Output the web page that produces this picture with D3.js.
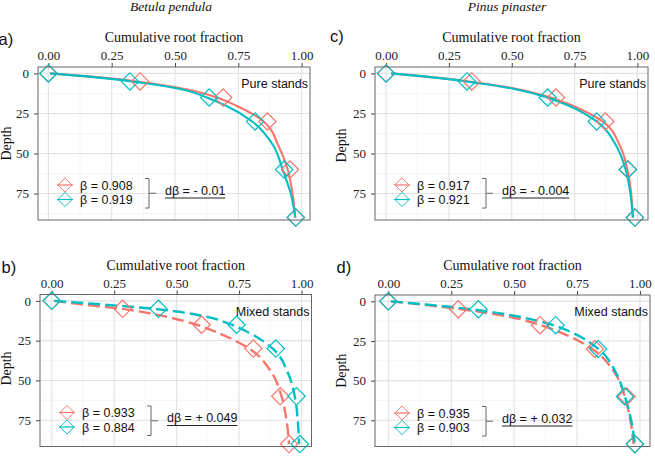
<!DOCTYPE html>
<html lang="en">
<head>
<meta charset="UTF-8" />
<title>Cumulative root fraction</title>
<script src="https://cdn.jsdelivr.net/npm/d3@7"></script>
<style>
  body { margin: 0; background: #fff; }
  svg { display: block; }
</style>
</head>
<body>
<svg width="655" height="456"></svg>
<script>
// depths of the observations and of the fitted curves
const depthObs = [0, 5, 15, 30, 60, 90];
const depthFit = [0, 2, 5, 10, 15, 20, 30, 45, 60, 75, 90];
const xTicks = [0, 0.25, 0.5, 0.75, 1];
const xMinor = [0.125, 0.375, 0.625, 0.875];
const yTicks = [0, 25, 50, 75];
const yMinor = [12.5, 37.5, 62.5, 87.5];
const species = ["Betula pendula", "Pinus pinaster"];

// a) Betula pendula, pure stands
const aObsRed  = [0, 0.362, 0.69, 0.865, 0.954, 0.977];
const aObsCyan = [0, 0.322, 0.635, 0.816, 0.931, 0.977];
const aFitRed  = [0.007, 0.17, 0.35, 0.55, 0.665, 0.74, 0.85, 0.908, 0.945, 0.964, 0.975];
const aFitCyan = [0.007, 0.16, 0.33, 0.53, 0.625, 0.70, 0.805, 0.888, 0.925, 0.957, 0.975];
// b) Betula pendula, mixed stands
const bObsRed  = [0, 0.284, 0.60, 0.807, 0.915, 0.95];
const bObsCyan = [0, 0.427, 0.74, 0.897, 0.98, 0.993];
const bFitRed  = [0.01, 0.11, 0.28, 0.46, 0.58, 0.665, 0.79, 0.88, 0.92, 0.94, 0.95];
const bFitCyan = [0.01, 0.18, 0.41, 0.62, 0.72, 0.79, 0.885, 0.945, 0.973, 0.985, 0.99];
// c) Pinus pinaster, pure stands
const cObsRed  = [0, 0.341, 0.676, 0.872, 0.962, 0.99];
const cObsCyan = [0, 0.322, 0.643, 0.838, 0.962, 0.99];
const cFitRed  = [0.02, 0.16, 0.33, 0.53, 0.655, 0.74, 0.862, 0.93, 0.96, 0.975, 0.982];
const cFitCyan = [0.02, 0.16, 0.32, 0.52, 0.64, 0.725, 0.838, 0.915, 0.953, 0.972, 0.982];
// d) Pinus pinaster, mixed stands
const dObsRed  = [0, 0.278, 0.603, 0.821, 0.947, 0.98];
const dObsCyan = [0, 0.358, 0.665, 0.834, 0.94, 0.98];
const dFitRed  = [0.01, 0.13, 0.29, 0.49, 0.605, 0.69, 0.81, 0.9, 0.94, 0.962, 0.975];
const dFitCyan = [0.01, 0.15, 0.33, 0.53, 0.655, 0.735, 0.835, 0.905, 0.94, 0.965, 0.98];

const betaLabels = [["β = 0.908", "β = 0.919"], ["β = 0.933", "β = 0.884"],
                    ["β = 0.917", "β = 0.921"], ["β = 0.935", "β = 0.903"]];
const dBetaLabels = ["dβ = - 0.01", "dβ = + 0.049", "dβ = - 0.004", "dβ = + 0.032"];
const colors = ["#F8766D", "#00BFC4"];

const SERIF = "'Liberation Serif', 'Times New Roman', Times, serif";
const SANS = "'Liberation Sans', Arial, Helvetica, sans-serif";

const svg = d3.select("svg");

const panels = [
  {tag: "a)", stand: "Pure stands", box: [38, 67, 310, 220], xDom: [-0.041, 1.033],
   obs: [aObsRed, aObsCyan], fit: [aFitRed, aFitCyan], dashed: false, i: 0,
   tagX: -1.5, tagY: 45, depthX: 10.5, depthDy: 0},
  {tag: "b)", stand: "Mixed stands", box: [40, 294.5, 311.5, 446.5], xDom: [-0.047, 1.04],
   obs: [bObsRed, bObsCyan], fit: [bFitRed, bFitCyan], dashed: true, i: 1,
   tagX: 1.5, tagY: 272.5, depthX: 11, depthDy: -2},
  {tag: "c)", stand: "Pure stands", box: [375, 67, 648, 220], xDom: [-0.044, 1.042],
   obs: [cObsRed, cObsCyan], fit: [cFitRed, cFitCyan], dashed: false, i: 2,
   tagX: 330, tagY: 42, depthX: 346, depthDy: 2},
  {tag: "d)", stand: "Mixed stands", box: [375, 295, 650, 446.5], xDom: [-0.053, 1.04],
   obs: [dObsRed, dObsCyan], fit: [dFitRed, dFitCyan], dashed: true, i: 3,
   tagX: 336.5, tagY: 273, depthX: 346, depthDy: 0}
];

// species titles
svg.selectAll("text.species").data(species).enter().append("text")
  .attr("class", "species")
  .attr("x", (d, i) => i === 0 ? 171 : 507).attr("y", 11)
  .attr("text-anchor", "middle").attr("font-family", SERIF)
  .attr("font-style", "italic").attr("font-size", 13.5)
  .attr("fill", "#111").text(d => d);

const diamond = d3.symbol().type(d3.symbolSquare);

function drawPanel(p) {
  const [x0, y0, x1, y1] = p.box;
  const x = d3.scaleLinear().domain(p.xDom).range([x0, x1]);
  const y = d3.scaleLinear().domain([-4, 91.5]).range([y0, y1]);
  const g = svg.append("g");

  // grid
  g.selectAll("line.xmin").data(xMinor).enter().append("line")
    .attr("x1", d => x(d)).attr("x2", d => x(d)).attr("y1", y0).attr("y2", y1)
    .attr("stroke", "#f0f0f0").attr("stroke-width", 0.7);
  g.selectAll("line.ymin").data(yMinor).enter().append("line")
    .attr("y1", d => y(d)).attr("y2", d => y(d)).attr("x1", x0).attr("x2", x1)
    .attr("stroke", "#f0f0f0").attr("stroke-width", 0.7);
  g.selectAll("line.xmaj").data(xTicks).enter().append("line")
    .attr("x1", d => x(d)).attr("x2", d => x(d)).attr("y1", y0).attr("y2", y1)
    .attr("stroke", "#e2e2e2").attr("stroke-width", 1.1);
  g.selectAll("line.ymaj").data(yTicks).enter().append("line")
    .attr("y1", d => y(d)).attr("y2", d => y(d)).attr("x1", x0).attr("x2", x1)
    .attr("stroke", "#e2e2e2").attr("stroke-width", 1.1);

  // axes
  const ax = g.append("g").attr("transform", `translate(0,${y0})`)
    .call(d3.axisTop(x).tickValues(xTicks).tickFormat(d3.format(".2f")).tickSize(4).tickPadding(3));
  const ay = g.append("g").attr("transform", `translate(${x0},0)`)
    .call(d3.axisLeft(y).tickValues(yTicks).tickSize(4).tickPadding(5));
  [ax, ay].forEach(a => {
    a.attr("font-family", SERIF).attr("font-size", 13);
    a.select(".domain").remove();
    a.selectAll("line").attr("stroke", "#444");
    a.selectAll("text").attr("fill", "#222");
  });

  // axis titles
  g.append("text").attr("font-family", SERIF).attr("x", (x0 + x1) / 2).attr("y", y0 - 25)
    .attr("text-anchor", "middle").attr("font-size", 14).attr("fill", "#111")
    .text("Cumulative root fraction");
  g.append("text").attr("font-family", SERIF)
    .attr("transform", `translate(${p.depthX},${(y0 + y1) / 2 + p.depthDy}) rotate(-90)`)
    .attr("text-anchor", "middle").attr("font-size", 14).attr("fill", "#111").text("Depth");
  g.append("text").attr("font-family", SANS).attr("x", p.tagX).attr("y", p.tagY)
    .attr("font-size", 16.5).attr("fill", "#111").text(p.tag);

  // fitted curves
  const line = d3.line().x(d => x(d[0])).y(d => y(d[1])).curve(d3.curveMonotoneY);
  p.fit.forEach((vals, k) => {
    g.append("path").datum(vals.map((v, j) => [v, depthFit[j]]))
      .attr("d", line).attr("fill", "none").attr("stroke", colors[k])
      .attr("stroke-width", p.dashed ? 2.4 : 2.1)
      .attr("stroke-dasharray", p.dashed ? "12,5" : null);
  });

  // observed points
  p.obs.forEach((vals, k) => {
    g.selectAll(null).data(vals.map((v, j) => [v, depthObs[j]])).enter().append("path")
      .attr("d", diamond.size(150)())
      .attr("transform", d => `translate(${x(d[0])},${y(d[1])}) rotate(45)`)
      .attr("fill", "none").attr("stroke", colors[k]).attr("stroke-width", 1.2);
  });

  // panel border
  g.append("rect").attr("x", x0).attr("y", y0).attr("width", x1 - x0).attr("height", y1 - y0)
    .attr("fill", "none").attr("stroke", "#666").attr("stroke-width", 1);

  g.append("text").attr("font-family", SANS).attr("x", x1 - 2).attr("y", y0 + 21)
    .attr("text-anchor", "end").attr("font-size", 12.5).attr("fill", "#111").text(p.stand);

  // legend
  const rows = [y0 + 118, y0 + 132.5];
  rows.forEach((ry, k) => {
    g.append("line").attr("x1", x0 + 19).attr("x2", x0 + 35).attr("y1", ry).attr("y2", ry)
      .attr("stroke", colors[k]).attr("stroke-width", 1.2);
    g.append("path").attr("d", diamond.size(100)())
      .attr("transform", `translate(${x0 + 27},${ry}) rotate(45)`)
      .attr("fill", "none").attr("stroke", colors[k]).attr("stroke-width", 0.9);
    g.append("text").attr("font-family", SANS).attr("x", x0 + 42).attr("y", ry + 4.5)
      .attr("font-size", 12.5).attr("fill", "#111").text(betaLabels[p.i][k]);
  });
  const bx = x0 + 111, bt = y0 + 111.5, bb = y0 + 141;
  g.append("path")
    .attr("d", `M${bx - 4},${bt}H${bx}V${bb}H${bx - 4}M${bx},${(bt + bb) / 2}H${bx + 7}`)
    .attr("fill", "none").attr("stroke", "#666").attr("stroke-width", 1);
  const dt = g.append("text").attr("font-family", SANS).attr("x", x0 + 127).attr("y", y0 + 127.5)
    .attr("font-size", 12.5).attr("fill", "#111").text(dBetaLabels[p.i]);
  const w = dt.node().getComputedTextLength();
  g.append("line").attr("x1", x0 + 127).attr("x2", x0 + 127 + w)
    .attr("y1", y0 + 131).attr("y2", y0 + 131).attr("stroke", "#222").attr("stroke-width", 1);
}

panels.forEach(drawPanel);
</script>
</body>
</html>
